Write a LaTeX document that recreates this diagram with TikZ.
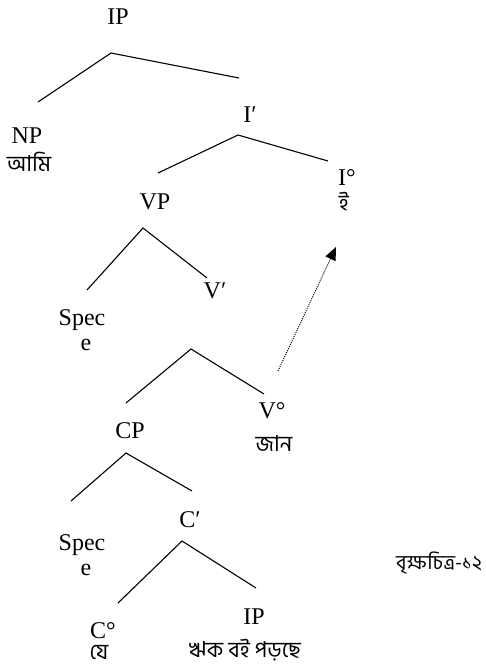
\documentclass[tikz,border=0pt]{standalone}
\usepackage{fontspec}
\setmainfont{Liberation Serif}
\newfontfamily\bn[Script=Bengali]{Hind Siliguri}
\usetikzlibrary{arrows.meta}

\tikzset{
  lab/.style={inner sep=0pt, anchor=base, font=\fontsize{24}{28}\selectfont},
  bnlab/.style={inner sep=0pt, anchor=base, font=\fontsize{22}{26}\selectfont\bn},
  branch/.style={line width=1.1pt, line join=miter},
  move/.style={line width=1pt, dash pattern=on 1pt off 1.2pt,
    -{Triangle[length=13pt,width=11pt]}}
}

\begin{document}
\begin{tikzpicture}[x=1pt, y=-1pt]
\useasboundingbox (0,0) rectangle (486,670);

% labels of the matrix clause
\node[lab] (ip)   at (118,24)  {IP};
\node[lab] (np)   at (27,143)  {NP};
\node[bnlab] (ami) at (29,171) {আমি};
\node[lab] (ibar) at (250,122) {I′};
\node[lab] (i0)   at (347,185) {I°};
\node[bnlab] (e0) at (344,210) {ই};
\node[lab] (vp)   at (155,209) {VP};
\node[lab] (vbar) at (215,298) {V′};
\node[lab] (spec1) at (82,325) {Spec};
\node[lab] (e1)   at (86,350)  {e};
\node[lab] (v0)   at (272,418) {V°};
\node[bnlab] (jan) at (274,451) {জান};

% labels of the embedded clause
\node[lab] (cp)   at (130,438) {CP};
\node[lab] (cbar) at (190,527) {C′};
\node[lab] (spec2) at (82,550) {Spec};
\node[lab] (e2)   at (86,575)  {e};
\node[lab] (c0)   at (103,638) {C°};
\node[bnlab] (je) at (99,659)  {যে};
\node[lab] (ip2)  at (254,624) {IP};
\node[bnlab] (rik) at (245,657) {ঋক বই পড়ছে};

% figure caption
\node[bnlab, font=\fontsize{20}{24}\selectfont\bn] (cap) at (439,569) {বৃক্ষচিত্র-১২};

% branching points and branch ends
\coordinate (ipA) at (111,53);  \coordinate (ipL) at (38,102);  \coordinate (ipR) at (239,78);
\coordinate (ibA) at (238,135); \coordinate (ibL) at (158,173); \coordinate (ibR) at (328,161);
\coordinate (vpA) at (143,228); \coordinate (vpL) at (87,290);  \coordinate (vpR) at (207,278);
\coordinate (vbA) at (191,349); \coordinate (vbL) at (126,403); \coordinate (vbR) at (264,394);
\coordinate (cpA) at (126,453); \coordinate (cpL) at (71,501);  \coordinate (cpR) at (192,491);
\coordinate (cbA) at (182,541); \coordinate (cbL) at (118,603); \coordinate (cbR) at (256,588);

\draw[branch] (ipL) -- (ipA) -- (ipR);
\draw[branch] (ibL) -- (ibA) -- (ibR);
\draw[branch] (vpL) -- (vpA) -- (vpR);
\draw[branch] (vbL) -- (vbA) -- (vbR);
\draw[branch] (cpL) -- (cpA) -- (cpR);
\draw[branch] (cbL) -- (cbA) -- (cbR);

% head movement of V° to I°
\coordinate (mvS) at (278,371);
\coordinate (mvE) at (336,247);
\draw[move] (mvS) -- (mvE);
\end{tikzpicture}
\end{document}
